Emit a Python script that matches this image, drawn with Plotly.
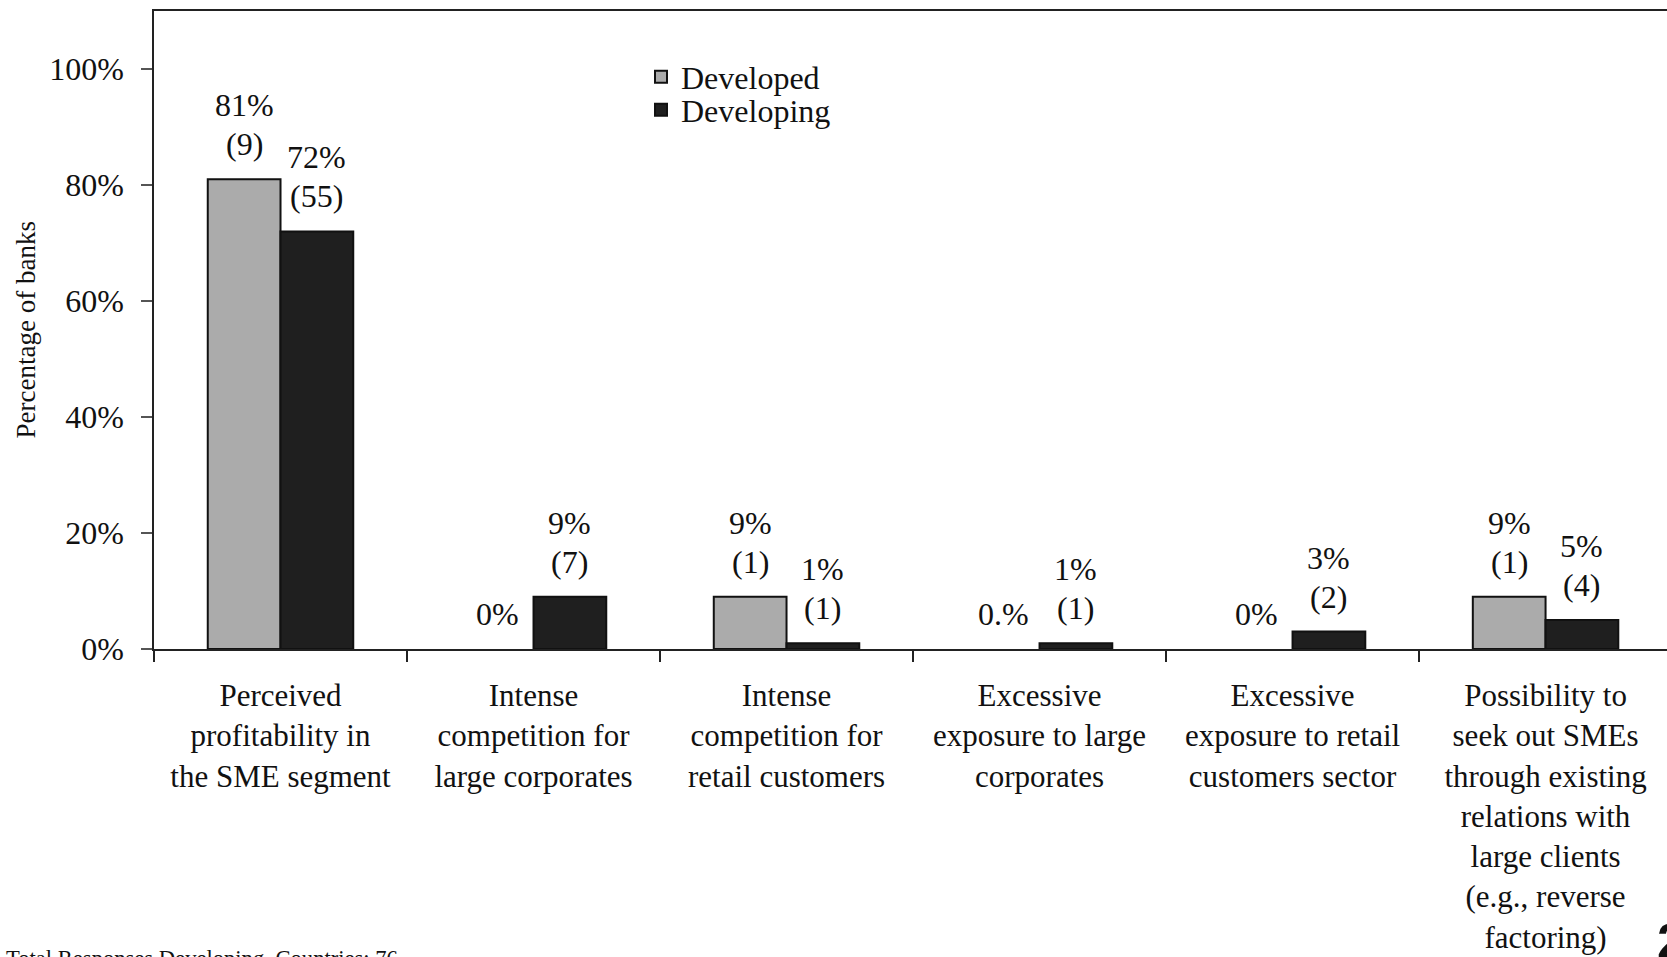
import plotly.graph_objects as go

# Survey data: share of banks citing each driver of SME involvement
categories = [
    "Perceived<br>profitability in<br>the SME segment",
    "Intense<br>competition for<br>large corporates",
    "Intense<br>competition for<br>retail customers",
    "Excessive<br>exposure to large<br>corporates",
    "Excessive<br>exposure to retail<br>customers sector",
    "Possibility to<br>seek out SMEs<br>through existing<br>relations with<br>large clients<br>(e.g., reverse<br>factoring)",
]
developed_pct = [81, 0, 9, 0, 0, 9]
developing_pct = [72, 9, 1, 1, 3, 5]
developed_pct_text = ["81%", "0%", "9%", "0.%", "0%", "9%"]
developed_count_text = ["(9)", "", "(1)", "", "", "(1)"]
developing_pct_text = ["72%", "9%", "1%", "1%", "3%", "5%"]
developing_count_text = ["(55)", "(7)", "(1)", "(1)", "(2)", "(4)"]
y_ticks = [0, 20, 40, 60, 80, 100]
footnote = "Total Responses Developing  Countries: 76"
page_number = "2"

FONT = "Liberation Serif, Times New Roman, serif"
W, H = 1667, 957
M_L, M_R, M_T, M_B = 154, 0, 11, 308
X_RANGE = [-0.5, 5.48]
BARGAP = 0.425
LABEL_FONT = dict(family=FONT, size=32, color="#111111")
LABEL_GAP = 35      # px from bar top to the centre of the lowest label line
LABEL_LINE = 39     # px between the two label lines


def outline_widths(vals):
    # empty bars get no outline so nothing is drawn on the baseline
    return [2 if v > 0 else 0 for v in vals]


fig = go.Figure()
fig.add_trace(go.Bar(
    name="Developed", x=list(range(len(categories))), y=developed_pct,
    marker=dict(color="#ababab",
                line=dict(color="#111111", width=outline_widths(developed_pct))),
    legend="legend",
))
fig.add_trace(go.Bar(
    name="Developing", x=list(range(len(categories))), y=developing_pct,
    marker=dict(color="#1f1f1f",
                line=dict(color="#111111", width=outline_widths(developing_pct))),
    legend="legend2",
))

# value labels above each bar, shifted by half a bar width
plot_w = W - M_L - M_R
px_per_cat = plot_w / (X_RANGE[1] - X_RANGE[0])
half_bar = px_per_cat * (1 - BARGAP) / 4
for i in range(len(categories)):
    for vals, pct_txt, cnt_txt, sgn in (
        (developed_pct, developed_pct_text, developed_count_text, -1),
        (developing_pct, developing_pct_text, developing_count_text, 1),
    ):
        lines = [t for t in (pct_txt[i], cnt_txt[i]) if t]
        for k, txt in enumerate(reversed(lines)):
            fig.add_annotation(
                x=i, y=vals[i], xref="x", yref="y", text=txt,
                showarrow=False, xanchor="center", yanchor="middle",
                xshift=sgn * half_bar, yshift=LABEL_GAP + k * LABEL_LINE,
                font=LABEL_FONT,
            )

fig.add_annotation(
    text="Percentage of banks", textangle=-90, xref="paper", yref="paper",
    x=(25.5 - M_L) / plot_w, y=0.5, xanchor="center", yanchor="middle",
    showarrow=False, font=dict(family=FONT, size=27, color="#111111"),
)
fig.add_annotation(
    text=footnote, xref="paper", yref="paper",
    x=(4 - M_L) / plot_w, y=(H - M_B - 944) / (H - M_T - M_B),
    xanchor="left", yanchor="top", showarrow=False,
    font=dict(family=FONT, size=22.6, color="#111111"),
)
fig.add_annotation(
    text="<b>" + page_number + "</b>", xref="paper", yref="paper",
    x=(1655 - M_L) / plot_w, y=(H - M_B - 912) / (H - M_T - M_B),
    xanchor="left", yanchor="top", showarrow=False,
    font=dict(family="Liberation Sans, Arial, sans-serif", size=50, color="#111111"),
)

plot_h = H - M_T - M_B
legend_common = dict(
    xanchor="left", yanchor="middle", bgcolor="rgba(0,0,0,0)",
    font=dict(family=FONT, size=32, color="#111111"),
    itemclick=False, itemdoubleclick=False,
)
fig.update_layout(
    width=W, height=H,
    margin=dict(l=M_L, r=M_R, t=M_T, b=M_B, pad=0, autoexpand=False),
    paper_bgcolor="white", plot_bgcolor="white",
    barmode="group", bargap=BARGAP, bargroupgap=0,
    showlegend=True,
    legend=dict(x=(641 - M_L) / plot_w, y=(H - M_B - 77) / plot_h, **legend_common),
    legend2=dict(x=(641 - M_L) / plot_w, y=(H - M_B - 110) / plot_h, **legend_common),
    font=dict(family=FONT, size=32, color="#111111"),
    xaxis=dict(
        type="category", range=X_RANGE, tickmode="array",
        tickvals=list(range(len(categories))), ticktext=categories,
        tickson="boundaries", ticks="outside", ticklen=11, tickwidth=1.5,
        tickcolor="#222222", showline=True, linecolor="#222222", linewidth=1.5,
        mirror=True, showgrid=False, zeroline=False, tickangle=0,
        ticklabelstandoff=18, automargin=False,
        tickfont=dict(family=FONT, size=31, color="#111111"),
    ),
    yaxis=dict(
        range=[0, 110], tickmode="array", tickvals=y_ticks,
        ticktext=[f"{v}%" for v in y_ticks], ticks="outside", ticklen=11,
        tickwidth=1.5, tickcolor="#555555", showline=True, linecolor="#222222",
        linewidth=1.5, showgrid=False, zeroline=False, ticklabelstandoff=11,
        automargin=False,
        tickfont=dict(family=FONT, size=32, color="#111111"),
    ),
)

fig.write_html("out.html")
